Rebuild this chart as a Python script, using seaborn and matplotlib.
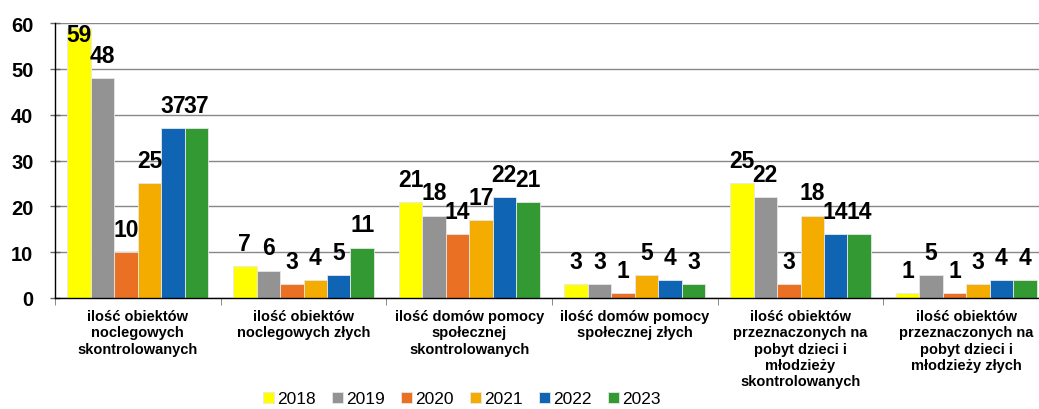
#!/usr/bin/env python3
"""Bar chart of inspected facilities per year (2018-2023)."""

import matplotlib.pyplot as plt
import pandas as pd
import seaborn as sns

CATEGORIES = [
    "ilość obiektów\nnoclegowych\nskontrolowanych",
    "ilość obiektów\nnoclegowych złych",
    "ilość domów pomocy\nspołecznej\nskontrolowanych",
    "ilość domów pomocy\nspołecznej złych",
    "ilość obiektów\nprzeznaczonych na\npobyt dzieci i\nmłodzieży\nskontrolowanych",
    "ilość obiektów\nprzeznaczonych na\npobyt dzieci i\nmłodzieży złych",
]
YEARS = ["2018", "2019", "2020", "2021", "2022", "2023"]
VALUES_2018 = [59, 7, 21, 3, 25, 1]
VALUES_2019 = [48, 6, 18, 3, 22, 5]
VALUES_2020 = [10, 3, 14, 1, 3, 1]
VALUES_2021 = [25, 4, 17, 5, 18, 3]
VALUES_2022 = [37, 5, 22, 4, 14, 4]
VALUES_2023 = [37, 11, 21, 3, 14, 4]
COLORS = ["#FFFF00", "#939393", "#EA7024", "#F4AC00", "#1064B4", "#339933"]

Y_MAX = 60


def main() -> None:
    sns.set_style("white")
    plt.rcParams["font.family"] = ["Liberation Sans", "DejaVu Sans"]
    plt.rcParams["text.color"] = "black"
    plt.rcParams["xtick.labelcolor"] = "black"
    plt.rcParams["ytick.labelcolor"] = "black"

    series = [VALUES_2018, VALUES_2019, VALUES_2020, VALUES_2021, VALUES_2022, VALUES_2023]
    rows = []
    for year, values in zip(YEARS, series):
        for cat, v in zip(CATEGORIES, values):
            rows.append({"kategoria": cat, "rok": year, "wartosc": v})
    df = pd.DataFrame(rows)

    fig = plt.figure(figsize=(10.39, 4.10), dpi=100)
    ax = fig.add_axes([55 / 1039, 1 - 299 / 410, 994 / 1039, 275 / 410])

    sns.barplot(
        data=df, x="kategoria", y="wartosc", hue="rok",
        order=CATEGORIES, hue_order=YEARS, palette=COLORS, saturation=1,
        width=0.85, edgecolor="#e8e8e8", linewidth=0.6, ax=ax, legend=True,
    )

    # value labels; Excel keeps labels inside the plot area
    for container in ax.containers:
        for bar in container:
            h = bar.get_height()
            x = bar.get_x() + bar.get_width() / 2
            if h > Y_MAX - 5:
                ax.annotate(f"{h:.0f}", (x, Y_MAX), ha="center", va="top",
                            fontsize=16.5, fontweight="bold", color="black")
            else:
                ax.annotate(f"{h:.0f}", (x, h), xytext=(0, 8), textcoords="offset points",
                            ha="center", va="bottom", fontsize=16.5, fontweight="bold",
                            color="black")

    ax.set_ylim(0, Y_MAX)
    ax.set_xlim(-0.5, len(CATEGORIES) - 0.5)
    ax.set_yticks(range(0, Y_MAX + 1, 10))
    ax.set_yticklabels([str(t) for t in range(0, Y_MAX + 1, 10)],
                       fontsize=14.5, fontweight="bold")
    ax.yaxis.grid(True, color="#888888", linewidth=1)
    ax.set_axisbelow(True)
    ax.tick_params(axis="y", length=7, width=1, direction="inout", color="#666666",
                   labelcolor="black", left=True, pad=12)

    ax.set_xticks([i - 0.5 for i in range(len(CATEGORIES) + 1)], minor=True)
    ax.tick_params(axis="x", which="minor", length=5, color="#777777", bottom=True)
    ax.tick_params(axis="x", which="major", length=0, pad=8, labelcolor="black")
    ax.set_xticklabels(CATEGORIES, fontsize=10.5, fontweight="bold", va="top")
    ax.set_xlabel("")
    ax.set_ylabel("")

    for side in ("top", "right"):
        ax.spines[side].set_visible(False)
    for side in ("left", "bottom"):
        ax.spines[side].set_color("black")
        ax.spines[side].set_linewidth(1)

    handles, labels = ax.get_legend_handles_labels()
    ax.get_legend().remove()
    fig.legend(handles, labels, loc="center", bbox_to_anchor=(462 / 1039, 1 - 400 / 410),
               ncol=6, frameon=False, fontsize=12.5, handlelength=0.6, handleheight=0.6,
               handletextpad=0.2, columnspacing=0.95, borderaxespad=0, borderpad=0,
               labelcolor="black")

    fig.savefig("out.png", dpi=100)


if __name__ == "__main__":
    main()
